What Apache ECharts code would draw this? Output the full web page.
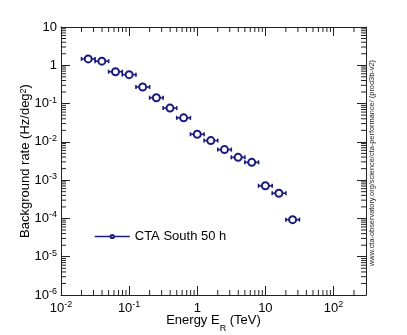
<!DOCTYPE html>
<html>
<head>
<meta charset="utf-8">
<script src="https://cdn.jsdelivr.net/npm/echarts@6/dist/echarts.min.js"></script>
<style>
  html, body { margin: 0; padding: 0; background: #fff; }
  #main { width: 407px; height: 335px; }
</style>
</head>
<body>
<div id="main"></div>
<script>
// energy bins (TeV): centre, low edge, high edge
var energy = [0.0251, 0.0398, 0.0631, 0.1, 0.158, 0.251, 0.398, 0.631, 1.0, 1.58, 2.51, 3.98, 6.31, 10.0, 15.8, 25.1];
var energyLow = [0.02, 0.0316, 0.05, 0.0794, 0.126, 0.2, 0.316, 0.5, 0.794, 1.26, 2, 3.16, 5, 7.94, 12.6, 20];
var energyHigh = [0.0316, 0.05, 0.0794, 0.126, 0.2, 0.316, 0.5, 0.794, 1.26, 2, 3.16, 5, 7.94, 12.6, 20, 31.6];
// background rate (Hz/deg2)
var bgRate = [1.47, 1.28, 0.68, 0.57, 0.271, 0.142, 0.0762, 0.0424, 0.0158, 0.0108, 0.00628, 0.00394, 0.00292, 0.000713, 0.000456, 0.000093];

var xTicks = [0.01, 0.1, 1, 10, 100];
var xTickLabels = ['10{sup|-2}', '10{sup|-1}', '1', '10', '10{sup|2}'];
var yTicks = [10, 1, 0.1, 0.01, 0.001, 0.0001, 0.00001, 0.000001];
var yTickLabels = ['10', '1', '10{sup|-1}', '10{sup|-2}', '10{sup|-3}', '10{sup|-4}', '10{sup|-5}', '10{sup|-6}'];

var X_MIN = 0.01, X_MAX = 300, Y_MIN = 1e-6, Y_MAX = 10;
var navy = '#1b1b7d';
var frame = '#222';

function findLabel(ticks, labels, v) {
  for (var i = 0; i < ticks.length; i++) {
    if (Math.abs(Math.log10(v) - Math.log10(ticks[i])) < 1e-6) return labels[i];
  }
  return '';
}

// minor tick positions 2..9 per decade
var xMinor = [], yMinor = [];
for (var e = -2; e <= 2; e++) {
  for (var k = 2; k <= 9; k++) {
    var v = k * Math.pow(10, e);
    if (v < X_MAX) xMinor.push([v, Y_MIN]);
  }
}
for (var e2 = -6; e2 <= 0; e2++) {
  for (var k2 = 2; k2 <= 9; k2++) {
    yMinor.push([X_MIN, k2 * Math.pow(10, e2)]);
  }
}

var errData = [];
var ptData = [];
for (var i = 0; i < energy.length; i++) {
  errData.push([energyLow[i], energyHigh[i], bgRate[i]]);
  ptData.push([energy[i], bgRate[i]]);
}

var supRich = {
  sup: { fontSize: 9, verticalAlign: 'top', fontFamily: 'Liberation Sans', color: '#000' }
};

var chart = echarts.init(document.getElementById('main'));
var tickStyle = { show: true, inside: true, length: 9, lineStyle: { color: frame, width: 1 } };
var lineStyleAxis = { show: true, lineStyle: { color: frame, width: 1 } };

var option = {
  animation: false,
  backgroundColor: '#fff',
  grid: { left: 61, right: 41, top: 27, bottom: 40, outerBoundsMode: 'none' },
  legend: {
    left: 89,
    top: 225,
    itemWidth: 35,
    itemHeight: 4,
    data: ['CTA South 50 h'],
    textStyle: { fontSize: 13, fontFamily: 'Liberation Sans', color: '#000' },
    lineStyle: { width: 1.5, color: navy, opacity: 1 }
  },
  xAxis: [{
    type: 'log',
    logBase: 10,
    min: X_MIN,
    max: X_MAX,
    splitNumber: 5,
    position: 'bottom',
    axisLine: lineStyleAxis,
    axisTick: tickStyle,
    splitLine: { show: false },
    axisLabel: {
      fontSize: 13,
      fontFamily: 'Liberation Sans',
      color: '#000',
      margin: 5,
      lineHeight: 16,
      rich: supRich,
      formatter: function (v) { return findLabel(xTicks, xTickLabels, v); }
    },
    name: 'Energy E{sub|R} (TeV)',
    nameLocation: 'middle',
    nameGap: 19,
    nameMoveOverlap: false,
    nameTextStyle: {
      fontSize: 13,
      fontFamily: 'Liberation Sans',
      color: '#000',
      rich: { sub: { fontSize: 9, verticalAlign: 'bottom', fontFamily: 'Liberation Sans', color: '#000', padding: [0, 0, -6, 0] } }
    }
  }, {
    type: 'log',
    logBase: 10,
    min: X_MIN,
    max: X_MAX,
    splitNumber: 5,
    position: 'top',
    axisLine: lineStyleAxis,
    axisTick: tickStyle,
    splitLine: { show: false },
    axisLabel: { show: false }
  }],
  yAxis: [{
    type: 'log',
    logBase: 10,
    min: Y_MIN,
    max: Y_MAX,
    splitNumber: 7,
    position: 'left',
    axisLine: lineStyleAxis,
    axisTick: tickStyle,
    splitLine: { show: false },
    axisLabel: {
      fontSize: 13,
      fontFamily: 'Liberation Sans',
      color: '#000',
      margin: 4,
      lineHeight: 16,
      rich: supRich,
      formatter: function (v) { return findLabel(yTicks, yTickLabels, v); }
    },
    name: 'Background rate (Hz/deg{sup|2})',
    nameLocation: 'middle',
    nameGap: 29,
    nameMoveOverlap: false,
    nameTextStyle: {
      fontSize: 13,
      fontFamily: 'Liberation Sans',
      color: '#000',
      rich: { sup: { fontSize: 9, verticalAlign: 'top', fontFamily: 'Liberation Sans', color: '#000' } }
    }
  }, {
    type: 'log',
    logBase: 10,
    min: Y_MIN,
    max: Y_MAX,
    splitNumber: 7,
    position: 'right',
    axisLine: lineStyleAxis,
    axisTick: tickStyle,
    splitLine: { show: false },
    axisLabel: { show: false }
  }],
  graphic: [{
    type: 'text',
    x: 372,
    y: 163,
    rotation: Math.PI / 2,
    style: {
      text: 'www.cta-observatory.org/science/cta-performance/ (prod3b-v2)',
      fontSize: 7.4,
      fontFamily: 'Liberation Sans',
      fill: '#222',
      align: 'center',
      verticalAlign: 'middle'
    }
  }],
  series: [{
    // minor ticks on x (bottom and top)
    type: 'custom',
    name: 'xminor',
    silent: true,
    clip: false,
    xAxisIndex: 0,
    yAxisIndex: 0,
    data: xMinor,
    renderItem: function (params, api) {
      var v = api.value(0);
      var b = api.coord([v, Y_MIN]);
      var t = api.coord([v, Y_MAX]);
      var st = { stroke: frame, lineWidth: 1 };
      return {
        type: 'group',
        children: [
          { type: 'line', shape: { x1: b[0], y1: b[1], x2: b[0], y2: b[1] - 5 }, style: st },
          { type: 'line', shape: { x1: t[0], y1: t[1], x2: t[0], y2: t[1] + 5 }, style: st }
        ]
      };
    }
  }, {
    // minor ticks on y (left and right)
    type: 'custom',
    name: 'yminor',
    silent: true,
    clip: false,
    xAxisIndex: 0,
    yAxisIndex: 0,
    data: yMinor,
    renderItem: function (params, api) {
      var v = api.value(1);
      var l = api.coord([X_MIN, v]);
      var r = api.coord([X_MAX, v]);
      var st = { stroke: frame, lineWidth: 1 };
      return {
        type: 'group',
        children: [
          { type: 'line', shape: { x1: l[0], y1: l[1], x2: l[0] + 5, y2: l[1] }, style: st },
          { type: 'line', shape: { x1: r[0], y1: r[1], x2: r[0] - 5, y2: r[1] }, style: st }
        ]
      };
    }
  }, {
    // horizontal error bars (bin widths)
    type: 'custom',
    name: 'errors',
    silent: true,
    xAxisIndex: 0,
    yAxisIndex: 0,
    encode: { x: [0, 1], y: 2 },
    data: errData,
    z: 3,
    renderItem: function (params, api) {
      var p1 = api.coord([api.value(0), api.value(2)]);
      var p2 = api.coord([api.value(1), api.value(2)]);
      var st = { stroke: navy, lineWidth: 1.6 };
      return {
        type: 'group',
        children: [
          { type: 'line', shape: { x1: p1[0], y1: p1[1], x2: p2[0], y2: p2[1] }, style: st },
          { type: 'line', shape: { x1: p1[0], y1: p1[1] - 2, x2: p1[0], y2: p1[1] + 2 }, style: st },
          { type: 'line', shape: { x1: p2[0], y1: p2[1] - 2, x2: p2[0], y2: p2[1] + 2 }, style: st }
        ]
      };
    }
  }, {
    type: 'line',
    name: 'CTA South 50 h',
    xAxisIndex: 0,
    yAxisIndex: 0,
    data: ptData,
    z: 4,
    symbol: 'emptyCircle',
    symbolSize: 7,
    showAllSymbol: true,
    itemStyle: { color: navy, borderWidth: 1.3 },
    lineStyle: { width: 0, opacity: 0 }
  }]
};

chart.setOption(option);
</script>
</body>
</html>
